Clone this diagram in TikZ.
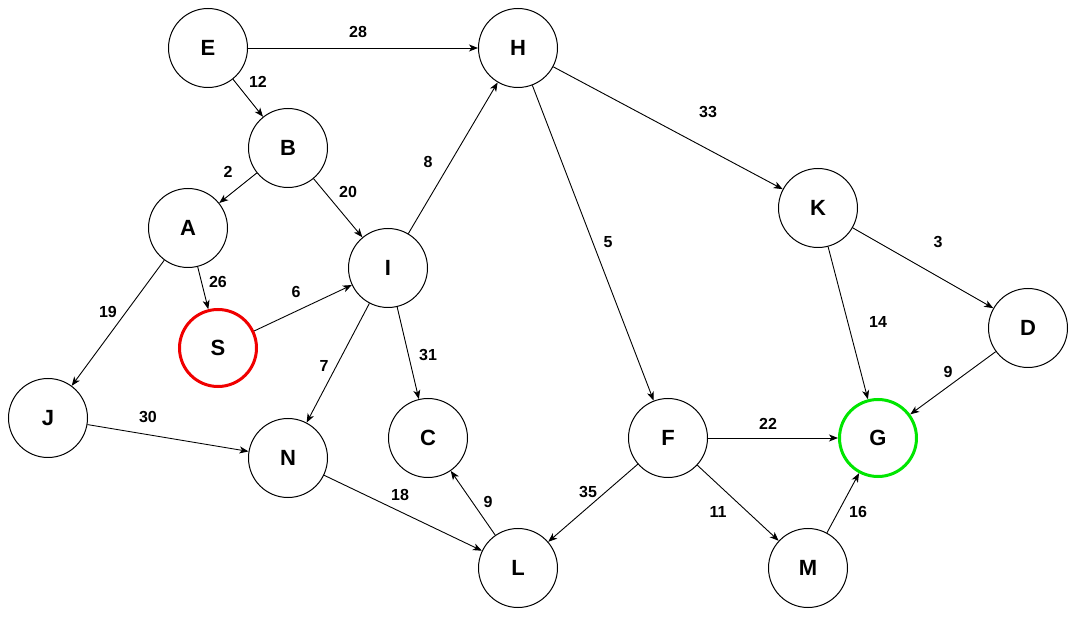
\documentclass[tikz,border=0pt]{standalone}
\usepackage{fontspec}
\setmainfont{Liberation Sans}
\usetikzlibrary{arrows.meta}
\tikzset{
  vtx/.style={circle,draw=black,line width=1pt,minimum size=79pt,inner sep=0pt,font=\fontsize{22}{22}\selectfont\bfseries,fill=white},
  lbl/.style={font=\fontsize{16}{16}\selectfont\bfseries,inner sep=0pt},
  edge/.style={line width=0.9pt,-{Stealth[length=9pt,width=7pt,inset=2.5pt]}},
}
\begin{document}
\begin{tikzpicture}[x=1pt,y=-1pt]
\useasboundingbox (0,0) rectangle (1077,617);
\node[vtx] (E) at (208,48) {E};
\node[vtx] (H) at (518,48) {H};
\node[vtx] (B) at (288,148) {B};
\node[vtx] (A) at (188,228) {A};
\node[vtx] (I) at (388,268) {I};
\node[vtx] (K) at (818,208) {K};
\node[vtx] (D) at (1028,328) {D};
\node[vtx,draw={rgb,255:red,240;green,0;blue,0},line width=3pt,minimum size=77pt] (S) at (218,348) {S};
\node[vtx] (J) at (48,418) {J};
\node[vtx] (N) at (288,458) {N};
\node[vtx] (C) at (428,438) {C};
\node[vtx] (F) at (668,438) {F};
\node[vtx,draw={rgb,255:red,0;green,230;blue,0},line width=3pt,minimum size=77pt] (G) at (878,438) {G};
\node[vtx] (L) at (518,568) {L};
\node[vtx] (M) at (808,568) {M};

\draw[edge] (E) -- (H);
\draw[edge] (E) -- (B);
\draw[edge] (B) -- (A);
\draw[edge] (B) -- (I);
\draw[edge] (A) -- (S);
\draw[edge] (A) -- (J);
\draw[edge] (S) -- (I);
\draw[edge] (I) -- (H);
\draw[edge] (I) -- (N);
\draw[edge] (I) -- (C);
\draw[edge] (H) -- (K);
\draw[edge] (H) -- (F);
\draw[edge] (K) -- (D);
\draw[edge] (K) -- (G);
\draw[edge] (D) -- (G);
\draw[edge] (J) -- (N);
\draw[edge] (N) -- (L);
\draw[edge] (L) -- (C);
\draw[edge] (F) -- (L);
\draw[edge] (F) -- (G);
\draw[edge] (F) -- (M);
\draw[edge] (M) -- (G);

\node[lbl] (lEH) at (358,32) {28};
\node[lbl] (lEB) at (258,82) {12};
\node[lbl] (lBA) at (228,172) {2};
\node[lbl] (lBI) at (348,192) {20};
\node[lbl] (lIH) at (428,162) {8};
\node[lbl] (lHK) at (708,112) {33};
\node[lbl] (lHF) at (608,242) {5};
\node[lbl] (lKD) at (938,242) {3};
\node[lbl] (lAS) at (218,282) {26};
\node[lbl] (lSI) at (296,292) {6};
\node[lbl] (lAJ) at (108,312) {19};
\node[lbl] (lKG) at (878,322) {14};
\node[lbl] (lIC) at (428,355) {31};
\node[lbl] (lIN) at (324,366) {7};
\node[lbl] (lDG) at (948,372) {9};
\node[lbl] (lJN) at (148,417) {30};
\node[lbl] (lFG) at (768,424) {22};
\node[lbl] (lNL) at (400,495) {18};
\node[lbl] (lLC) at (488,502) {9};
\node[lbl] (lFL) at (588,492) {35};
\node[lbl] (lFM) at (718,512) {11};
\node[lbl] (lMG) at (858,512) {16};
\end{tikzpicture}
\end{document}
